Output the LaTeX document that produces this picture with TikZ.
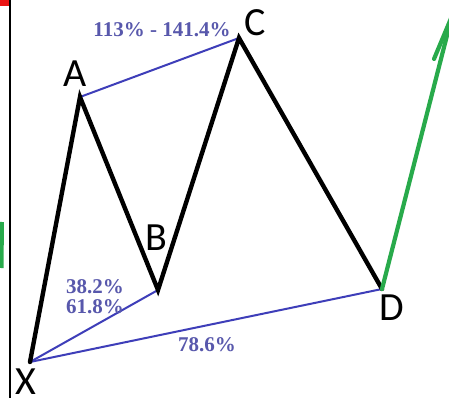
\documentclass[tikz,border=0pt]{standalone}
\usepackage{fontspec}
\setmainfont{Carlito}
\newfontfamily\labfont{Liberation Serif}
\definecolor{legblack}{RGB}{0,0,0}
\definecolor{retblue}{RGB}{62,62,185}
\definecolor{labblue}{RGB}{88,88,172}
\definecolor{arrgreen}{RGB}{40,170,75}
\definecolor{markred}{RGB}{235,20,20}
\tikzset{
  leg/.style={draw=legblack, line width=4.4pt, line cap=round, line join=miter},
  ret/.style={draw=retblue, line width=2pt, line cap=round},
  grn/.style={draw=arrgreen, line width=4.2pt, line cap=round},
  ptlabel/.style={font=\fontsize{40}{40}\selectfont, text=black, inner sep=0pt},
  pct/.style={font=\labfont\bfseries\fontsize{21}{21}\selectfont, text=labblue, inner sep=0pt}
}
\begin{document}
\begin{tikzpicture}[x=1pt,y=-1pt]
\useasboundingbox (0,0) rectangle (449,401);
\fill[white] (0,0) rectangle (449,401);
% frame pieces at the edges
\fill[markred] (0,0) rectangle (10,6);
\draw[black, line width=2pt] (10,0) -- (10,398);
\draw[arrgreen, line width=4pt] (2,222) -- (1.5,268);
% vertices
\coordinate (X) at (30,362);
\coordinate (A) at (80,97);
\coordinate (B) at (158,290);
\coordinate (C) at (239,38);
\coordinate (D) at (382,289);
\coordinate (T) at (452,16);
\coordinate (W) at (434,59);
% retracement lines
\draw[ret] (A) -- (C);
\draw[ret] (X) -- (B);
\draw[ret] (X) -- (D);
% legs
\draw[leg] (X) -- (A) -- (B) -- (C) -- (D);
% green continuation
\draw[grn] (D) -- (T);
\draw[grn] (W) -- (T);
% point labels
\node[ptlabel] (lA) at (75,74) {A};
\node[ptlabel] (lB) at (156,238) {B};
\node[ptlabel] (lC) at (255,23) {C};
\node[ptlabel] (lD) at (392,308) {D};
\node[ptlabel] (lX) at (26,382) {X};
% ratio labels
\node[pct] (r1) at (162,30) {113\% - 141.4\%};
\node[pct] (r2) at (95,287) {38.2\%};
\node[pct] (r3) at (95,307) {61.8\%};
\node[pct] (r4) at (207,345) {78.6\%};
\end{tikzpicture}
\end{document}
